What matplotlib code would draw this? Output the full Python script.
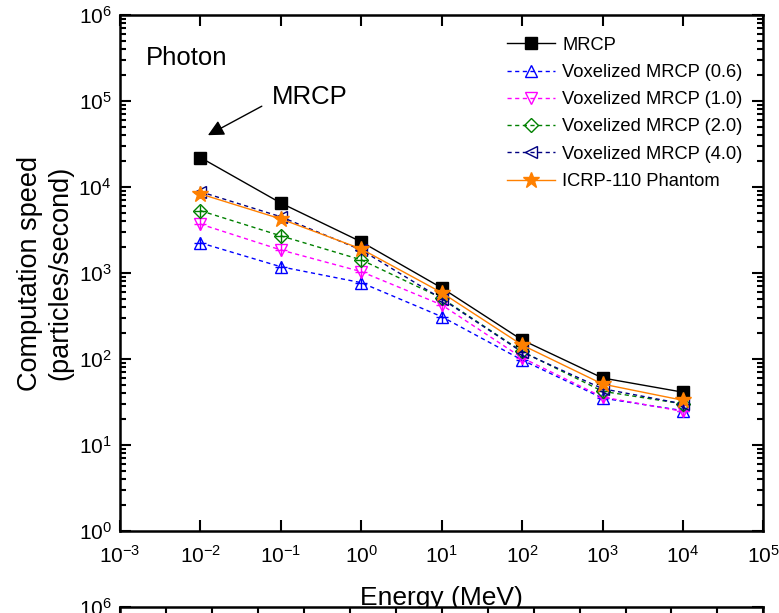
import numpy as np
import matplotlib
matplotlib.use('Agg')
import matplotlib.pyplot as plt
from matplotlib.ticker import LogLocator, NullFormatter, MultipleLocator, NullLocator, FixedLocator

plt.rcParams['font.family'] = ['Liberation Sans', 'DejaVu Sans']
plt.rcParams['mathtext.fontset'] = 'custom'
plt.rcParams['mathtext.rm'] = 'Liberation Sans'
plt.rcParams['axes.unicode_minus'] = False

# energies (MeV) and computation speeds (particles/second)
energy = [1e-2, 1e-1, 1e0, 1e1, 1e2, 1e3, 1e4]
mrcp = [22000, 6500, 2300, 670, 166, 60, 41]
vox_06 = [2240, 1180, 770, 310, 97, 35, 25]
vox_10 = [3700, 1850, 1035, 425, 103, 36, 24.5]
vox_20 = [5300, 2700, 1420, 510, 122, 42, 30]
vox_40 = [8800, 4500, 1850, 500, 120, 45, 30]
icrp = [8300, 4250, 1900, 590, 145, 51, 33]

fig = plt.figure(figsize=(7.79, 6.13), dpi=100)
ax = fig.add_axes([0.154, 0.134, 0.826, 0.8415])

dash = (0, (3, 2.5))
ax.plot(energy, mrcp, color='black', lw=1, marker='s', ms=8, mfc='black', mec='black', label='MRCP')
series = [
    (vox_06, '#0000FF', '^', 'Voxelized MRCP (0.6)'),
    (vox_10, '#FF00FF', 'v', 'Voxelized MRCP (1.0)'),
    (vox_20, '#008000', 'D', 'Voxelized MRCP (2.0)'),
    (vox_40, '#000080', '<', 'Voxelized MRCP (4.0)'),
]
for vals, col, mk, lab in series:
    ms = 7 if mk == 'D' else 9
    ax.plot(energy, vals, color=col, lw=1, ls=dash, marker=mk, ms=ms, mfc='none', mec=col, mew=1, label=lab)
    # cross drawn inside the open markers
    ax.plot(energy, vals, ls='none', marker='+', ms=9, color=col, mew=1)
ax.plot(energy, icrp, color='#FF8000', lw=1, marker='*', ms=12, mfc='#FF8000', mec='#FF8000', label='ICRP-110 Phantom')

ax.set_xscale('log')
ax.set_yscale('log')
ax.set_xlim(1e-3, 1e5)
ax.set_ylim(1e0, 1e6)
ax.xaxis.set_major_locator(LogLocator(base=10, numticks=20))
ax.xaxis.set_minor_locator(NullLocator())
ax.yaxis.set_major_locator(LogLocator(base=10, numticks=20))
ax.yaxis.set_minor_locator(LogLocator(base=10, subs=np.arange(2, 10), numticks=20))
ax.yaxis.set_minor_formatter(NullFormatter())
ax.tick_params(which='both', direction='in', top=True, right=True, width=1.5, labelsize=15)
ax.tick_params(which='major', length=8)
ax.tick_params(which='minor', length=4)
ax.tick_params(axis='x', pad=10)
ax.tick_params(axis='y', pad=6)
for s in ax.spines.values():
    s.set_linewidth(1.8)

ax.set_xlabel('Energy (MeV)', fontsize=19, labelpad=14)
ax.set_ylabel('Computation speed\n(particles/second)', fontsize=19.5, labelpad=4, linespacing=1.2)

ax.text(2.1e-3, 3.2e5, 'Photon', fontsize=18.5, va='center')
ax.text(0.077, 1.1e5, 'MRCP', fontsize=18.5, va='center')
ax.annotate('', xy=(0.0124, 4.0e4), xytext=(0.058, 8.7e4),
            arrowprops=dict(arrowstyle='-|>', color='black', lw=1, mutation_scale=24, shrinkA=0, shrinkB=0))

leg = ax.legend(loc='upper left', bbox_to_anchor=(0.602, 0.958), frameon=False, fontsize=13.2,
                handlelength=2.6, handletextpad=0.4, labelspacing=0.56, borderaxespad=0, borderpad=0)

# top of the next panel peeking in below
ax2 = fig.add_axes([0.154, 0.0, 0.826, 0.0098])
ax2.set_yscale('log')
ax2.set_ylim(10 ** 5.93, 1e6)
ax2.set_xlim(0, 14)
ax2.xaxis.set_major_locator(MultipleLocator(1))
ax2.xaxis.set_ticklabels([])
ax2.yaxis.set_major_locator(FixedLocator([1e6]))
ax2.yaxis.set_minor_locator(NullLocator())
ax2.tick_params(axis='x', which='both', direction='in', top=True, bottom=False, width=1.5, length=8)
ax2.tick_params(axis='y', which='both', direction='in', right=True, width=1.5, length=8, labelsize=15, pad=6)
ax2.spines['bottom'].set_visible(False)
for s in ax2.spines.values():
    s.set_linewidth(1.8)

fig.savefig('out.png', dpi=100)
